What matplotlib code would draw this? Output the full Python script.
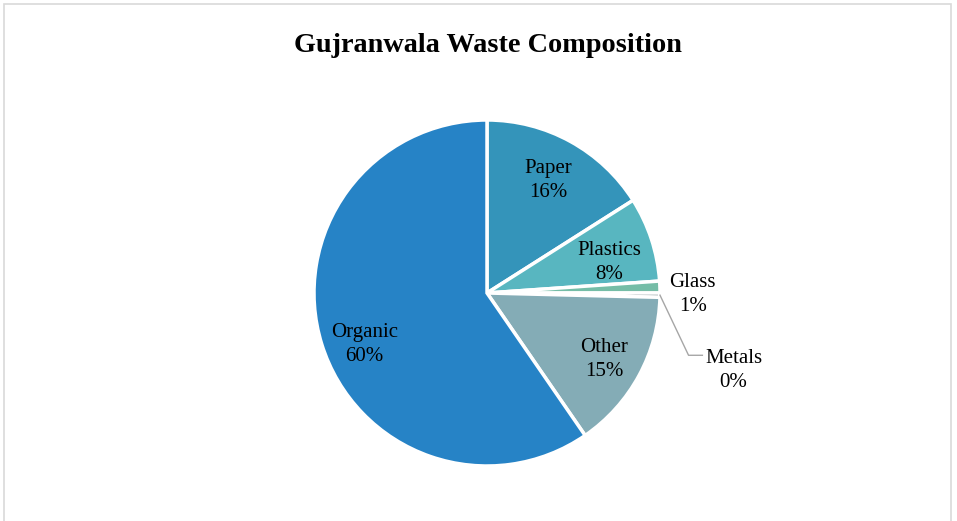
import matplotlib.pyplot as plt
from matplotlib.patches import Rectangle
import numpy as np

plt.rcParams['font.family'] = ['Liberation Serif', 'DejaVu Serif']

categories = ['Paper', 'Plastics', 'Glass', 'Metals', 'Other', 'Organic']
shares = [16.0, 7.9, 1.1, 0.4, 15.0, 59.6]
colors = ['#3494BA', '#58B6C0', '#75BDA7', '#7A8C8E', '#84ACB6', '#2683C6']

fig = plt.figure(figsize=(9.57, 5.21), dpi=100)

# light chart-area frame
fig.patches.append(Rectangle((4 / 957, -0.1), 947 / 957, 1.1 - 4 / 521,
                             transform=fig.transFigure, fill=False,
                             edgecolor='#D9D9D9', linewidth=1.2))

fig.text(488 / 957, 1 - 45 / 521, 'Gujranwala Waste Composition', ha='center',
         va='center', fontsize=20.3, fontweight='bold')

cx, cy, r = 487, 293, 173
ax = fig.add_axes([(cx - r) / 957, (521 - cy - r) / 521, 2 * r / 957, 2 * r / 521])
wedges, _ = ax.pie(shares, colors=colors, startangle=90, counterclock=False,
                   radius=1, wedgeprops=dict(edgecolor='white', linewidth=2.5))
ax.set_xlim(-1, 1)
ax.set_ylim(-1, 1)
ax.set_aspect('equal')
ax.axis('off')

fs = 15
# label distance and angle nudge (degrees) for the inside labels
inside = {'Paper': (0.74, 0), 'Plastics': (0.73, -4), 'Other': (0.78, -1),
          'Organic': (0.77, 5.5)}
total = sum(shares)
for w, name, v in zip(wedges, categories, shares):
    mid = (w.theta1 + w.theta2) / 2
    label = f'{name}\n{round(v / total * 100)}%'
    if name == 'Glass':
        ax.text(1.19, -0.01, label, ha='center', va='center', fontsize=fs,
                linespacing=1.35)
    elif name == 'Metals':
        ex, ey = np.cos(np.deg2rad(mid)), np.sin(np.deg2rad(mid))
        ax.plot([ex, 1.165, 1.245], [ey, -0.36, -0.36], color='#A6A6A6', lw=1,
                clip_on=False)
        ax.text(1.425, -0.45, label, ha='center', va='center', fontsize=fs,
                linespacing=1.35)
    else:
        d, nudge = inside[name]
        a = np.deg2rad(mid + nudge)
        ax.text(d * np.cos(a), d * np.sin(a), label, ha='center',
                va='center', fontsize=fs, linespacing=1.35)

fig.savefig('out.png', dpi=100)
